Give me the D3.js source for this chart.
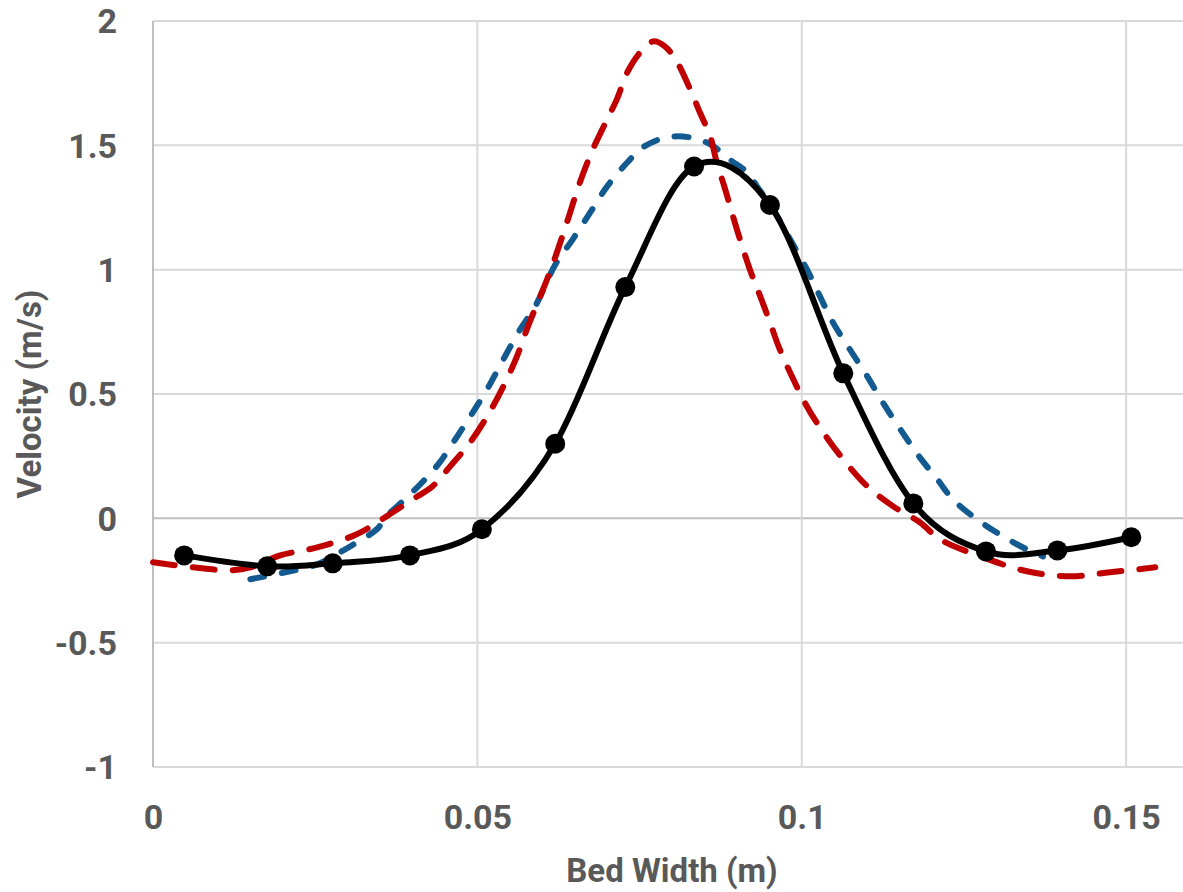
<!DOCTYPE html>
<html>
<head>
<meta charset="utf-8">
<script src="https://cdn.jsdelivr.net/npm/d3@7"></script>
<style>
  html, body { margin: 0; padding: 0; background: #fff; }
  svg { display: block; }
  text { font-family: Roboto, "Liberation Sans", sans-serif; font-weight: bold; fill: #595959; }
</style>
</head>
<body>
<svg id="chart" width="1183" height="892"></svg>
<script>
// Measured (black, markers)
const measX = [0.0048, 0.0176, 0.0277, 0.0396, 0.0507, 0.0620, 0.0728, 0.0834, 0.0951, 0.1064, 0.1172, 0.1284, 0.1394, 0.1508];
const measY = [-0.149, -0.193, -0.181, -0.149, -0.044, 0.300, 0.930, 1.415, 1.260, 0.583, 0.060, -0.133, -0.129, -0.076];

// Red dashed series
const redX = [0.0000, 0.0062, 0.0119, 0.0150, 0.0196, 0.0253, 0.0314, 0.0360, 0.0400, 0.0431, 0.0458, 0.0489, 0.0515, 0.0540, 0.0561, 0.0578, 0.0597, 0.0615, 0.0638, 0.0658, 0.0678, 0.0700, 0.0715, 0.0731, 0.0751, 0.0771, 0.0789, 0.0808, 0.0828, 0.0843, 0.0859, 0.0869, 0.0882, 0.0900, 0.0920, 0.0936, 0.0951, 0.0966, 0.0987, 0.1008, 0.1033, 0.1064, 0.1101, 0.1141, 0.1182, 0.1213, 0.1280, 0.1347, 0.1414, 0.1475, 0.1532, 0.1545];
const redY = [-0.177, -0.197, -0.209, -0.197, -0.149, -0.117, -0.064, 0.008, 0.076, 0.129, 0.209, 0.306, 0.410, 0.530, 0.651, 0.772, 0.893, 1.013, 1.190, 1.351, 1.484, 1.604, 1.685, 1.793, 1.874, 1.918, 1.898, 1.834, 1.725, 1.632, 1.536, 1.431, 1.323, 1.162, 1.001, 0.893, 0.788, 0.680, 0.559, 0.450, 0.346, 0.237, 0.129, 0.048, -0.016, -0.084, -0.157, -0.213, -0.233, -0.217, -0.201, -0.197];

// Blue dashed series
const blueX = [0.0150, 0.0211, 0.0253, 0.0288, 0.0314, 0.0345, 0.0360, 0.0388, 0.0415, 0.0442, 0.0469, 0.0493, 0.0515, 0.0540, 0.0566, 0.0589, 0.0620, 0.0647, 0.0674, 0.0700, 0.0731, 0.0755, 0.0792, 0.0828, 0.0859, 0.0889, 0.0916, 0.0931, 0.0956, 0.0982, 0.1008, 0.1028, 0.1048, 0.1074, 0.1101, 0.1125, 0.1152, 0.1182, 0.1209, 0.1233, 0.1270, 0.1310, 0.1347, 0.1372];
const blueY = [-0.245, -0.213, -0.185, -0.137, -0.097, -0.044, 0.008, 0.076, 0.145, 0.225, 0.330, 0.426, 0.519, 0.639, 0.760, 0.852, 1.020, 1.122, 1.230, 1.335, 1.431, 1.492, 1.532, 1.532, 1.504, 1.443, 1.391, 1.335, 1.242, 1.122, 1.001, 0.893, 0.788, 0.680, 0.571, 0.466, 0.358, 0.245, 0.157, 0.076, -0.004, -0.072, -0.125, -0.153];

const xTicks = [0, 0.05, 0.1, 0.15];
const xTickLabels = ["0", "0.05", "0.1", "0.15"];
const yTicks = [-1, -0.5, 0, 0.5, 1, 1.5, 2];
const yTickLabels = ["-1", "-0.5", "0", "0.5", "1", "1.5", "2"];

const svg = d3.select("#chart");
const x = d3.scaleLinear().domain([0, 0.16]).range([153, 1191]);
const y = d3.scaleLinear().domain([-1, 2]).range([767, 21]);

// gridlines
const grid = svg.append("g");
grid.selectAll("line.h").data(yTicks).join("line")
  .attr("x1", x(0)).attr("x2", 1191)
  .attr("y1", d => y(d)).attr("y2", d => y(d))
  .attr("stroke", d => d === 0 ? "#bfbfbf" : "#d9d9d9").attr("stroke-width", 2);
grid.selectAll("line.v").data(xTicks.filter(d => d !== 0)).join("line")
  .attr("x1", d => x(d)).attr("x2", d => x(d))
  .attr("y1", y(-1)).attr("y2", y(2))
  .attr("stroke", "#d9d9d9").attr("stroke-width", 2);
grid.append("line").attr("x1", x(0)).attr("x2", x(0)).attr("y1", y(-1)).attr("y2", y(2))
  .attr("stroke", "#bfbfbf").attr("stroke-width", 2);

// axes labels via d3 axes (no domain/ticks lines)
const xAxis = d3.axisBottom(x).tickValues(xTicks).tickFormat((d, i) => xTickLabels[i]).tickSize(0).tickPadding(0);
const gx = svg.append("g").attr("transform", `translate(0, 805)`).call(xAxis);
gx.select(".domain").remove();
gx.selectAll("text").attr("font-size", 34).attr("dy", "0.71em").attr("fill", "#595959")
  .style("font-family", "Roboto, sans-serif").style("font-weight", "bold");

const yAxis = d3.axisLeft(y).tickValues(yTicks).tickFormat((d, i) => yTickLabels[i]).tickSize(0).tickPadding(36);
const gy = svg.append("g").attr("transform", `translate(${x(0)}, 0)`).call(yAxis);
gy.select(".domain").remove();
gy.selectAll("text").attr("font-size", 34).attr("dy", "0.35em").attr("fill", "#595959")
  .style("font-family", "Roboto, sans-serif").style("font-weight", "bold");

// axis titles
svg.append("text").attr("x", 672).attr("y", 882).attr("text-anchor", "middle")
  .attr("font-size", 33).text("Bed Width (m)");
svg.append("text").attr("transform", "translate(41, 394) rotate(-90)").attr("text-anchor", "middle")
  .attr("font-size", 33).text("Velocity (m/s)");

const line = d3.line().x(d => x(d[0])).y(d => y(d[1])).curve(d3.curveCatmullRom.alpha(0.5));

const redData = redX.map((v, i) => [v, redY[i]]);
const blueData = blueX.map((v, i) => [v, blueY[i]]);
const measData = measX.map((v, i) => [v, measY[i]]);

svg.append("path").datum(blueData).attr("d", line)
  .attr("fill", "none").attr("stroke", "#125a8f").attr("stroke-width", 6)
  .attr("stroke-dasharray", "14,18").attr("stroke-linecap", "round");

svg.append("path").datum(redData).attr("d", line)
  .attr("fill", "none").attr("stroke", "#c00000").attr("stroke-width", 6)
  .attr("stroke-dasharray", "22,18").attr("stroke-linecap", "round");

const lineM = d3.line().x(d => x(d[0])).y(d => y(d[1])).curve(d3.curveCardinal.tension(0));
svg.append("path").datum(measData).attr("d", lineM)
  .attr("fill", "none").attr("stroke", "#000").attr("stroke-width", 6);

svg.selectAll("circle.m").data(measData).join("circle")
  .attr("cx", d => x(d[0])).attr("cy", d => y(d[1])).attr("r", 10).attr("fill", "#000");
</script>
</body>
</html>
